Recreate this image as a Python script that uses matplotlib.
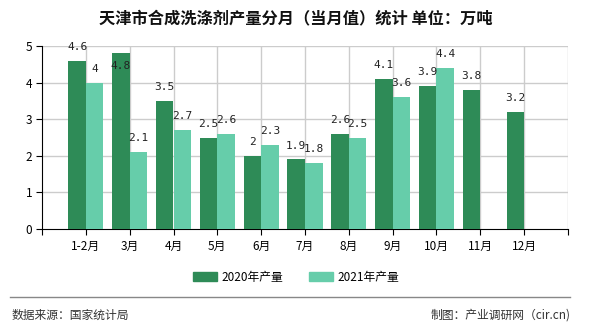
import matplotlib
matplotlib.use("Agg")
import matplotlib.pyplot as plt
import numpy as np
from matplotlib.patches import Rectangle
from matplotlib.lines import Line2D

plt.rcParams['font.family'] = ['Noto Sans CJK SC', 'DejaVu Sans']

months = ["1-2月", "3月", "4月", "5月", "6月", "7月", "8月", "9月", "10月", "11月", "12月"]
output_2020 = [4.6, 4.8, 3.5, 2.5, 2.0, 1.9, 2.6, 4.1, 3.9, 3.8, 3.2]
output_2021 = [4.0, 2.1, 2.7, 2.6, 2.3, 1.8, 2.5, 3.6, 4.4]
series_names = ["2020年产量", "2021年产量"]
title = "天津市合成洗涤剂产量分月（当月值）统计 单位：万吨"
source_text = "数据来源：国家统计局"
maker_text = "制图：产业调研网（cir.cn)"

c2020 = "#2e8b57"
c2021 = "#66cdaa"
grid_c = "#cccccc"

fig = plt.figure(figsize=(5.9, 3.3), dpi=100)
ax = fig.add_axes([42/590, 1-229/330, 526/590, 183/330])

x = np.arange(len(months))
w = 0.4
ax.bar(x - w/2, output_2020, width=w, color=c2020, zorder=3)
ax.bar(np.arange(len(output_2021)) + w/2, output_2021, width=w, color=c2021, zorder=3)

label_font = dict(family='DejaVu Sans Mono', fontsize=8, color='#222222')
for i, v in enumerate(output_2020):
    dy = -9 if v >= 4.7 else 10   # keep the tallest label inside the plot box
    ax.annotate(f"{v:g}", (i - w/2, v), xytext=(0, dy), textcoords='offset points',
                ha='center', va='center', zorder=5, **label_font)
for i, v in enumerate(output_2021):
    ax.annotate(f"{v:g}", (i + w/2, v), xytext=(0, 10), textcoords='offset points',
                ha='center', va='center', zorder=5, **label_font)

n_slots = len(months) + 1
ax.set_xlim(-1, n_slots - 1)
ax.set_ylim(0, 5)
ax.set_yticks(range(6))
ax.set_yticklabels([str(i) for i in range(6)], fontsize=8.5)

# tick marks at every slot edge, labels under the month centres
ax.set_xticks(np.arange(-1, n_slots))
ax.set_xticklabels([""] + months + [""], fontsize=8.5)
ax.tick_params(axis='x', length=4, color='black', pad=4)
ax.tick_params(axis='y', length=4, color='black', pad=3)

for yv in range(1, 6):
    ax.axhline(yv, color=grid_c, linewidth=1, zorder=0)
for xv in range(0, n_slots):
    ax.axvline(xv, color=grid_c, linewidth=1, zorder=0)
for s in ['top', 'right']:
    ax.spines[s].set_visible(False)
ax.spines['left'].set_color('black')
ax.spines['bottom'].set_color('black')

fig.text(296/590, 1 - 18/330, title, ha='center', va='center', fontsize=11.7,
         fontweight='bold', color='#111111')

handles = [Rectangle((0, 0), 1, 1, color=c2020), Rectangle((0, 0), 1, 1, color=c2021)]
fig.legend(handles, series_names, loc='center', bbox_to_anchor=(296/590, 1 - 277/330),
           ncol=2, frameon=False, fontsize=8.5, handlelength=2.0, handleheight=0.7,
           columnspacing=2.2, handletextpad=0.4)

fig.add_artist(Line2D([10/590, 570/590], [1 - 297/330, 1 - 297/330], color='#888888', linewidth=1))
fig.text(12/590, 1 - 315/330, source_text, ha='left', va='center', fontsize=8.5, color='#333333')
fig.text(571/590, 1 - 315/330, maker_text, ha='right', va='center', fontsize=8.5, color='#333333')

fig.savefig("out.png", dpi=100, facecolor='white')
